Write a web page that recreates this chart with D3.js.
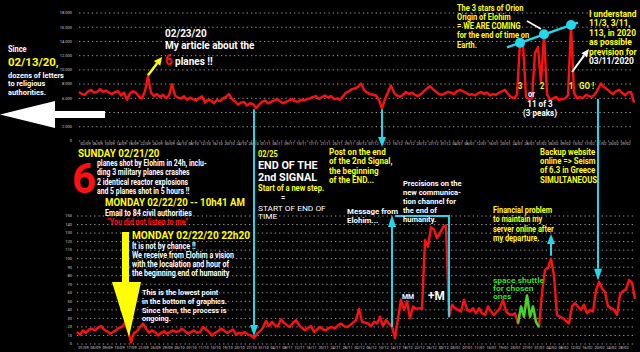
<!DOCTYPE html>
<html>
<head>
<meta charset="utf-8">
<script src="https://cdn.jsdelivr.net/npm/d3@7"></script>
<style>
  html, body { margin: 0; padding: 0; background: #000; }
  svg { display: block; }
  text { font-family: Roboto, "Open Sans", sans-serif; }
</style>
</head>
<body>
<div id="chart"></div>
<script>
// daily visits (thousands), upper graph
const topValues = [6.9,6.6,6.5,7.0,7.2,6.8,6.9,7.3,6.9,7.1, 6.8,6.6,6.9,7.0,6.4,6.8,5.8,6.7,7.0,6.8,
  6.2,6.0,7.0,9.1,6.8,6.3,6.6,6.2,6.5,6.0, 6.4,8.0,6.4,6.1,6.0,6.3,5.8,6.1,5.9,5.7,
  6.0,6.3,5.4,5.8,5.7,5.3,5.8,5.6,6.0,6.2, 6.6,5.9,5.6,5.1,5.4,5.5,5.0,5.3,5.2,4.6,
  5.1,5.5,5.7,5.3,5.5,5.7,5.9,5.6,5.3,5.5, 5.7,5.9,5.6,5.5,5.8,5.7,5.9,6.0,6.2,6.3,
  5.9,6.2,6.4,6.1,6.3,5.9,6.0,5.8,6.3,6.8, 7.0,7.3,7.4,7.6,8.1,7.2,6.8,6.6,6.5,6.4,
  5.8,4.6,5.9,6.9,7.8,6.8,6.4,6.2,6.5,6.9, 6.6,6.8,6.5,6.3,6.6,7.0,7.4,7.7,7.3,6.9,
  6.6,6.5,6.7,6.9,6.8,6.6,7.0,7.2,7.0,6.8, 6.5,6.6,6.4,6.7,6.9,6.6,6.8,6.4,6.6,6.5,
  6.8,7.0,7.2,6.6,6.2,6.0,6.5,13.8,13.6,6.2, 5.9,6.0,12.4,13.2,8.2,15.0,6.6,5.8,6.0,6.2,
  5.8,5.9,6.0,6.4,16.3,6.8,6.0,6.2,6.0,6.5, 6.3,6.2,6.6,7.3,8.1,7.6,7.3,6.9,6.6,7.0,
  7.2,6.8,6.4,6.8,6.9,5.4];

// lower graph
const bottomValues = [14,11,16,13,17,18,16,19,21,17, 15,12,14,16,19,20,25,16,2,13,
  15,20,24,18,13,16,14,10,13,15, 12,14,16,14,15,18,15,12,14,16,
  13,14,20,17,14,10,13,15,18,16, 13,15,17,11,13,12,14,11,10,7,
  12,15,19,27,21,26,22,21,29,25, 22,20,25,28,22,19,16,19,21,14,
  17,20,17,16,19,20,18,22,24,21, 20,22,25,28,41,26,25,24,21,26,
  24,32,21,28,24,20,7,30,52,40, 50,30,44,41,42,41,122,114,137,134,
  124,130,137,139,32,46,42,40,38,52, 40,38,42,36,42,36,34,44,38,34,
  38,42,52,38,35,34,36,24,44,32, 57,32,44,26,20,60,87,89,100,80,
  34,32,30,27,24,44,48,44,40,46, 36,40,38,63,73,65,61,44,42,40,
  34,58,62,64,75,72,53];

const topTicks = [0, 2, 4, 6, 8, 10, 12, 14, 16, 18];
const topTickLabels = ["0", "2.000", "4.000", "6.000", "8.000", "10.000", "12.000", "14.000", "16.000", "18.000"];
const bottomTicks = [0, 10, 20, 30, 40, 50, 60, 70, 80, 90, 100, 110, 120, 130, 140, 150];

const orionPeaks = [147, 155, 164];   // indexes of the 3 peaks
const greenRange = [147, 154];        // "space shuttle" part of the lower line

const topStart = new Date(2019, 7, 31);
const bottomStart = new Date(2019, 7, 30);
const topDates = topValues.map((v, i) => d3.timeDay.offset(topStart, i));
const bottomDates = bottomValues.map((v, i) => d3.timeDay.offset(bottomStart, i));

const svg = d3.select("#chart").append("svg")
  .attr("width", 640).attr("height", 352)
  .style("background", "#000");

const RED = "#ff1010", YEL = "#ffff00", CYAN = "#20d8ea", GRN = "#33dd22";

// scales
const xTop = d3.scaleTime().domain(d3.extent(topDates)).range([79, 634]);
const yTop = d3.scaleLinear().domain([0, 18]).range([141, 13]);
const xBot = d3.scaleTime().domain(d3.extent(bottomDates)).range([77, 635]);
const yBot = d3.scaleLinear().domain([0, 150]).range([344, 216]);

function panel(x, y, ticks, labels, x0, x1, axisY, dates) {
  const g = svg.append("g");
  // dotted grid lines
  g.selectAll("line.grid").data(ticks).enter().append("line")
    .attr("x1", x0).attr("x2", x1)
    .attr("y1", d => y(d)).attr("y2", d => y(d))
    .attr("stroke", "#9a9a9a").attr("stroke-width", 1)
    .attr("stroke-dasharray", "1.3,3");
  // y labels
  g.selectAll("text.yl").data(ticks).enter().append("text")
    .attr("x", 72).attr("y", d => y(d) + 1.3)
    .attr("text-anchor", "end").attr("font-size", 4)
    .attr("fill", "#c8c8c8")
    .text((d, i) => labels ? labels[i] : d);
  // dense x axis, one label every 4 days
  const tv = dates.filter((d, i) => i % 4 === 2 && i < dates.length - 3);
  const ax = svg.append("g").attr("transform", `translate(0,${axisY})`)
    .call(d3.axisBottom(x).tickValues(tv).tickFormat(d3.timeFormat("%d/%m")).tickSize(0).tickPadding(0));
  ax.select(".domain").remove();
  ax.selectAll("text").attr("font-size", 3.8).attr("fill", "#d8d8d8").attr("font-family", "Roboto, sans-serif");
}

panel(xTop, yTop, topTicks, topTickLabels, 79, 633, 142, topDates);
panel(xBot, yBot, bottomTicks, null, 77, 635, 346, bottomDates);

// red lines
const lineTop = d3.line().x((d, i) => xTop(topDates[i])).y(d => yTop(d));
svg.append("path").datum(topValues).attr("d", lineTop)
  .attr("fill", "none").attr("stroke", RED).attr("stroke-width", 2.4).attr("stroke-linejoin", "round");

const lineBot = d3.line().x(d => xBot(bottomDates[d.i])).y(d => yBot(d.v));
const botPts = bottomValues.map((v, i) => ({ i, v }));
svg.append("path").datum(botPts).attr("d", lineBot)
  .attr("fill", "none").attr("stroke", RED).attr("stroke-width", 2.4).attr("stroke-linejoin", "round");
svg.append("path").datum(botPts.slice(greenRange[0], greenRange[1] + 1)).attr("d", lineBot)
  .attr("fill", "none").attr("stroke", GRN).attr("stroke-width", 2.4).attr("stroke-linejoin", "round");

// helpers
function arrow(x1, y1, x2, y2, color, w, hl, hw) {
  const a = Math.atan2(y2 - y1, x2 - x1);
  const bx = x2 - hl * Math.cos(a), by = y2 - hl * Math.sin(a);
  svg.append("line").attr("x1", x1).attr("y1", y1).attr("x2", bx).attr("y2", by)
    .attr("stroke", color).attr("stroke-width", w);
  const px = -Math.sin(a) * hw / 2, py = Math.cos(a) * hw / 2;
  svg.append("path").attr("d", `M${x2},${y2}L${bx + px},${by + py}L${bx - px},${by - py}Z`).attr("fill", color);
}

function block(x, y, lines, o) {
  o = o || {};
  const g = svg.append("g").attr("transform", `translate(${x},${y}) scale(${o.sx || 0.87},1)`);
  lines.forEach((ln, i) => {
    const segs = Array.isArray(ln) ? ln : [[ln]];
    const t = g.append("text").attr("y", i * (o.lh || 9.3))
      .attr("font-size", o.size || 8.5).attr("font-weight", o.weight || 700)
      .attr("fill", o.color || "#fff").attr("text-anchor", o.anchor || "start");
    segs.forEach(s => t.append("tspan").text(s[0])
      .attr("fill", s[1] || null).attr("font-size", s[2] || null));
  });
}

// ---- annotations on the graphs ----
// Orion line and circles
const pk = orionPeaks.map(i => [xTop(topDates[i]), yTop(topValues[i])]);
const sl = (pk[2][1] - pk[0][1]) / (pk[2][0] - pk[0][0]);
svg.append("line")
  .attr("x1", pk[0][0] - 13).attr("y1", pk[0][1] - 13 * sl)
  .attr("x2", pk[2][0] + 7).attr("y2", pk[2][1] + 7 * sl)
  .attr("stroke", CYAN).attr("stroke-width", 2.5);
svg.selectAll("circle.pk").data(pk).enter().append("circle")
  .attr("cx", d => d[0]).attr("cy", d => d[1]).attr("r", 5).attr("fill", CYAN);

// cyan arrows linking graphs
const xb = i => xBot(bottomDates[i]);
const xt = i => xTop(topDates[i]);
arrow(xb(59), yTop(topValues[59]) + 1, xb(59), yBot(bottomValues[59]) - 2, CYAN, 2, 11, 8);
arrow(xt(101), yTop(topValues[101]) + 1, xt(101), 147, CYAN, 2, 10, 8);
arrow(xb(174) - 1, yTop(topValues[173]) + 10, xb(174) - 1, yBot(bottomValues[174]) - 1, CYAN, 2, 12, 8);
arrow(xb(105), yBot(bottomValues[105]), xb(105), 215, CYAN, 2, 12, 8);
// bracket for "Precisions"
svg.append("path")
  .attr("d", `M${xb(105) + 3},216H${xb(124)}V${yBot(bottomValues[124])}`)
  .attr("fill", "none").attr("stroke", CYAN).attr("stroke-width", 2);
arrow(xb(158), yBot(bottomValues[158]) - 3, xb(158), 234, CYAN, 2, 10, 8);

// yellow arrow to "6 planes" article
arrow(xt(23), yTop(topValues[23]) - 1, 162, 57, YEL, 2.5, 8, 8);
// white arrow to 03/11/2020
arrow(xt(164) + 1, 72, 589, 49, "#fff", 2, 8, 7);
svg.append("line").attr("x1", 527).attr("y1", 21).attr("x2", 541).attr("y2", 29)
  .attr("stroke", "#fff").attr("stroke-width", 1.5);

// big white left arrow
svg.append("path").attr("d", "M0,114.5L55,101V111H105V118H55V128Z").attr("fill", "#fff");
// big yellow down arrow
svg.append("path").attr("d", "M122,232H129V282H141L129,337L112,282H122Z").attr("fill", YEL);

// ---- texts ----
block(8, 52, ["Since"], { size: 8.5 });
block(8, 65.5, ["02/13/20,"], { size: 11.8, color: YEL, sx: 0.97 });
block(8, 78, ["dozens of letters", "to religious", "authorities."], { size: 7.8, lh: 8.4, sx: 0.95 });

block(165, 37, ["02/23/20", "My article about the"], { size: 10.5, lh: 12, sx: 0.95 });
block(165, 65, [[["6", RED, 14], [" planes !!"]]], { size: 10.5, sx: 0.95 });

block(457, 10.5, ["The 3 stars of Orion", "Origin of Elohim", "= WE ARE COMING", "for the end of time on", "Earth."],
  { size: 8.2, color: YEL, lh: 9.3, sx: 0.91 });
block(589, 16.5, ["I understand", "11/3, 3/11,", "113, in 2020", "as possible", "prevision for", [["03/11/2020", "#fff"]]],
  { size: 8.6, color: YEL, lh: 9.6, sx: 0.98 });

block(xt(147), 88.5, ["3"], { size: 8.5, color: YEL, anchor: "middle" });
block(xt(155) - 2, 88.5, ["2"], { size: 8.5, color: YEL, anchor: "middle" });
block(xt(164), 88.5, ["1"], { size: 8.5, color: YEL, anchor: "middle" });
block(579, 88.5, ["GO !"], { size: 8.5, color: YEL, sx: 0.95 });
block(528, 97, ["or"], { size: 8.5 });
block(540, 106.5, ["11 of 3", "(3 peaks)"], { size: 8.5, anchor: "middle", lh: 10, sx: 0.95 });

block(78, 156.5, ["SUNDAY 02/21/20"], { size: 11.2, color: YEL, sx: 0.88 });
block(72, 193, ["6"], { size: 42, color: RED, sx: 1 });
block(97, 166, ["planes shot by Elohim in 24h, inclu-", "ding 3 military planes crashes",
  "2 identical reactor explosions", "and 5 planes shot in 5 hours !!"], { size: 8.2, lh: 9.3, sx: 0.84 });
block(105, 206, ["MONDAY 02/22/20 -- 10h41 AM"], { size: 11.5, color: YEL, sx: 0.84 });
block(105, 215.5, ["Email to 84 civil authorities"], { size: 8.2, sx: 0.87 });
block(107, 224.5, ["\u201CYou did not listen to me\u201D"], { size: 8.2, color: RED, sx: 0.87 });

block(132, 239, ["MONDAY 02/22/20  22h20"], { size: 11.5, color: YEL, sx: 0.88 });
block(132, 248.5, ["It is not by chance !!", "We receive from Elohim a vision",
  "with the localation and hour of", "the beginning end of humanity"], { size: 8.2, lh: 9.2, sx: 0.87 });
block(142, 295, ["This is the lowest point", "in the bottom of graphics.",
  "Since then, the process is", "ongoing."], { size: 7.9, lh: 8.8, sx: 0.93 });

block(258, 157, ["02/25"], { size: 8.5, color: YEL });
block(258, 169, ["END OF THE", "2nd SIGNAL"], { size: 11.5, lh: 12, sx: 0.94 });
block(258, 190.5, ["Start of a new step."], { size: 8.5, color: YEL, sx: 0.89 });
block(281, 200, ["="], { size: 6.5, sx: 1.1 });
block(258, 210.5, ["START OF END OF", "TIME"], { size: 7.6, weight: 400, lh: 8.4, sx: 1.1 });

block(329, 155, ["Post on the end", "of the 2nd Signal,", "the beginning", "of the END..."],
  { size: 8.6, color: YEL, lh: 9.3, sx: 0.94 });
block(403, 186, ["Precisions on the", "new communica-", "tion channel for", "the end of", "humanity."],
  { size: 8, lh: 9, sx: 0.94 });
block(347, 214, ["Message from", "Elohim..."], { size: 7.6, lh: 8.6, sx: 1.04 });
block(540, 155, ["Backup website", "online => Seism", "of 6.3 in Greece", "SIMULTANEOUS"],
  { size: 8.2, color: YEL, lh: 9.2, sx: 0.95 });
block(493, 213, ["Financial problem", "to maintain my", "server online after", "my departure."],
  { size: 8.3, color: YEL, lh: 9.5, sx: 0.89 });
block(493, 283, ["space shuttle", "for chosen", "ones"], { size: 7.3, color: GRN, lh: 8.2, sx: 1.16 });
block(402, 299, ["MM"], { size: 8 });
block(428, 300, ["+M"], { size: 13.5 });
</script>
</body>
</html>
